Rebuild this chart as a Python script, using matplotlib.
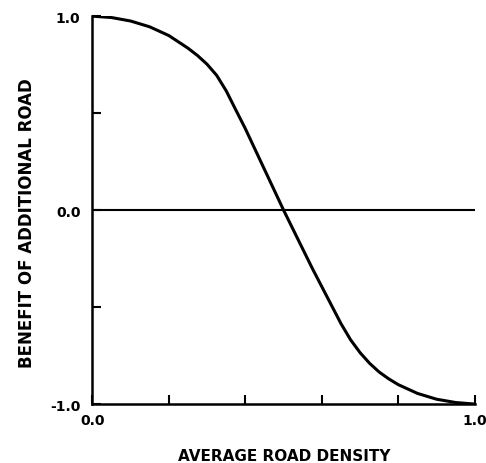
import matplotlib.pyplot as plt

plt.rcParams['font.family'] = ['DejaVu Sans']

# valores
densidad = [0.0, 0.05, 0.10, 0.15, 0.20, 0.25, 0.275, 0.30, 0.325, 0.35, 0.375,
            0.40, 0.425, 0.45, 0.475, 0.50, 0.525, 0.55, 0.575, 0.60, 0.625,
            0.65, 0.675, 0.70, 0.725, 0.75, 0.775, 0.80, 0.85, 0.90, 0.95, 1.0]
beneficio = [1.0, 0.993, 0.975, 0.945, 0.90, 0.835, 0.797, 0.752, 0.695, 0.615, 0.517,
             0.42, 0.315, 0.21, 0.105, 0.0, -0.10, -0.20, -0.30, -0.395, -0.49,
             -0.585, -0.668, -0.735, -0.79, -0.835, -0.87, -0.90, -0.945, -0.975, -0.992, -1.0]

xticks = [0.0, 0.2, 0.4, 0.6, 0.8, 1.0]
xtick_labels = ['0.0', '', '', '', '', '1.0']
yticks = [-1.0, -0.5, 0.0, 0.5, 1.0]
ytick_labels = ['-1.0', '', '0.0', '', '1.0']

fig = plt.figure(figsize=(4.86, 4.64), dpi=100)
ax = fig.add_axes([0.190, 0.127, 0.787, 0.836])

ax.axhline(0, color='black', lw=1.5)
ax.plot(densidad, beneficio, color='black', lw=2.2,
        solid_capstyle='round', solid_joinstyle='round')

ax.set_xlim(0, 1)
ax.set_ylim(-1, 1)
ax.spines['top'].set_visible(False)
ax.spines['right'].set_visible(False)
for s in ['left', 'bottom']:
    ax.spines[s].set_linewidth(1.8)

ax.set_xticks(xticks)
ax.set_xticklabels(xtick_labels)
ax.set_yticks(yticks)
ax.set_yticklabels(ytick_labels)
ax.tick_params(direction='in', length=6.5, width=1.5, labelsize=10)
ax.tick_params(axis='x', pad=6.5)
ax.tick_params(axis='y', pad=8.5)
for lab in ax.get_xticklabels() + ax.get_yticklabels():
    lab.set_fontweight('bold')

# etiquetas de los ejes
fig.text(0.584, 0.016, 'AVERAGE ROAD DENSITY', fontsize=11, fontweight='bold',
         ha='center', va='center')
fig.text(0.055, 0.519, 'BENEFIT OF ADDITIONAL ROAD', fontsize=12, fontweight='bold',
         ha='center', va='center', rotation=90)

fig.savefig('out.png', dpi=100)
